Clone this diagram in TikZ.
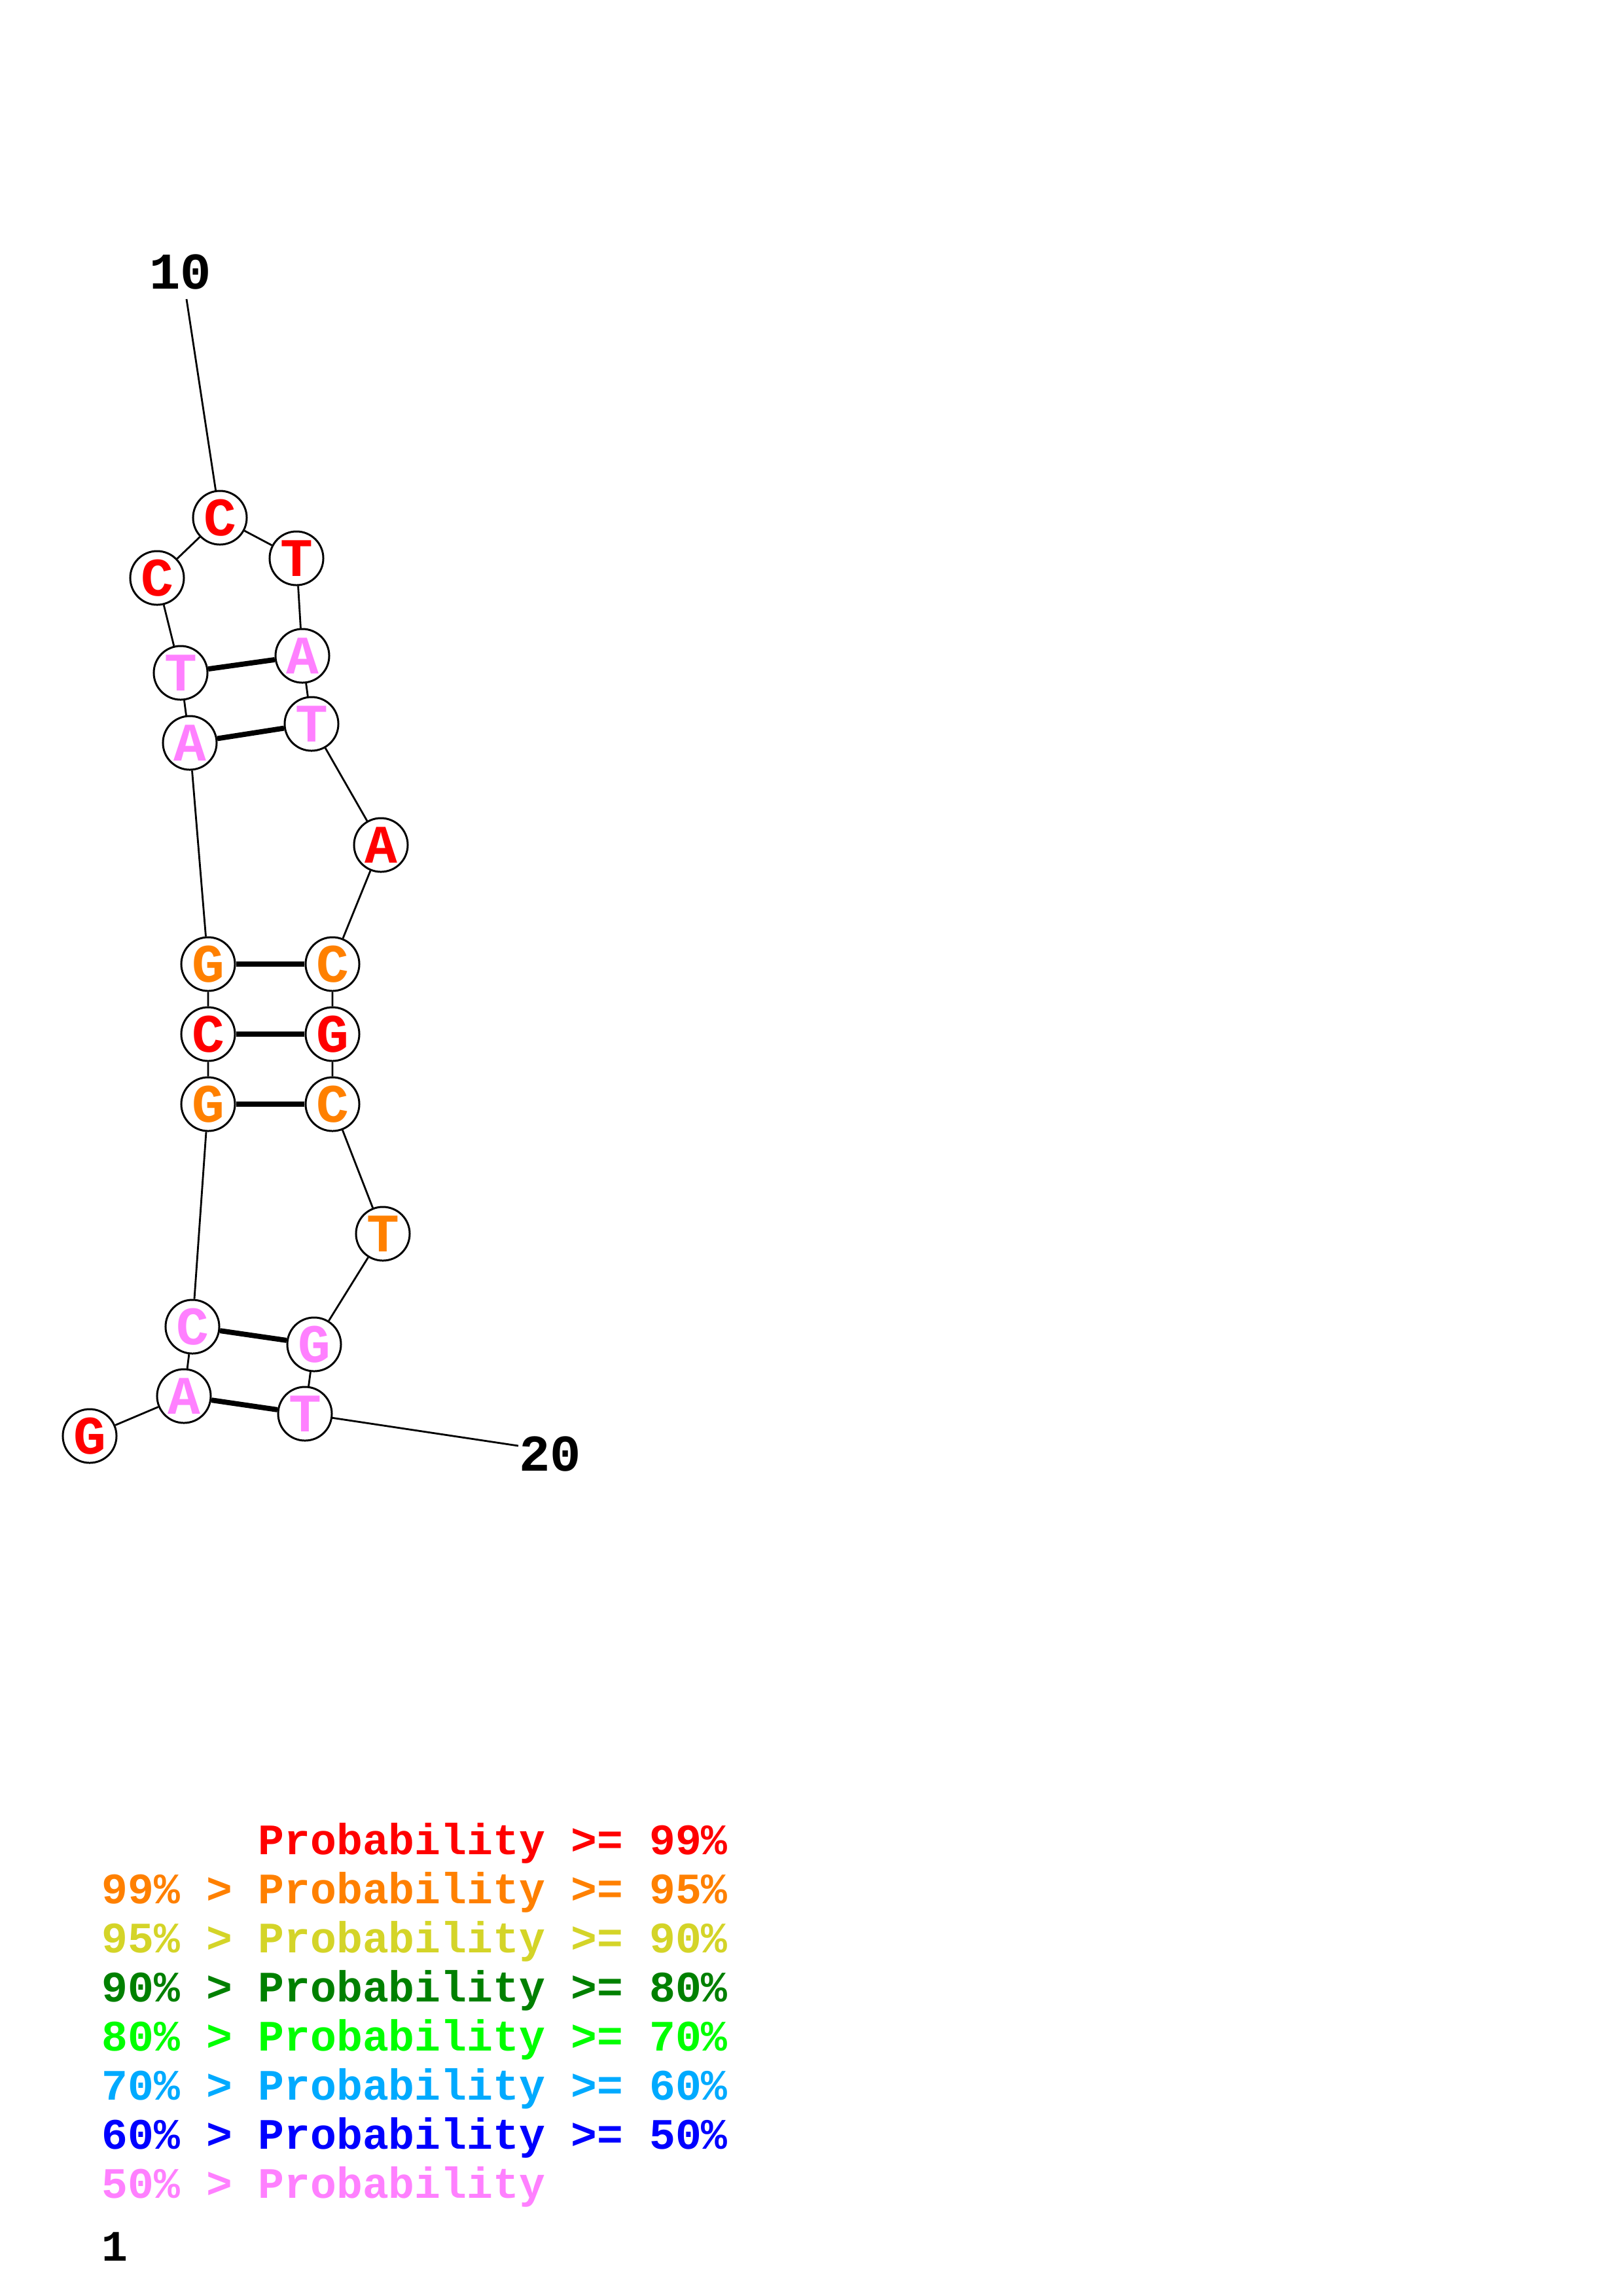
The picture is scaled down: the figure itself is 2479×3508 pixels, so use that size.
\documentclass[tikz,border=0pt]{standalone}
\usepackage{fontspec}
\setmonofont{Liberation Mono}
\usepackage{tikz}
\usetikzlibrary{calc}

\definecolor{pA}{RGB}{255,0,0}
\definecolor{pB}{RGB}{255,128,0}
\definecolor{pC}{RGB}{212,212,40}
\definecolor{pD}{RGB}{0,128,0}
\definecolor{pE}{RGB}{0,255,0}
\definecolor{pF}{RGB}{0,170,255}
\definecolor{pG}{RGB}{0,0,255}
\definecolor{pH}{RGB}{255,128,255}

\begin{document}
\begin{tikzpicture}[x=0.084711mm,y=-0.084711mm,
  nuc/.style={draw, circle, fill=white, line width=0.72pt, minimum size=6.95mm, inner sep=0pt, font=\fontsize{20}{20}\selectfont\ttfamily\bfseries},
  chain/.style={line width=0.68pt},
  pair/.style={line width=1.9pt},
  num/.style={inner sep=0pt, font=\fontsize{19}{19}\selectfont\ttfamily\bfseries},
  legend/.style={anchor=base west, inner sep=0pt, font=\fontsize{16}{18}\selectfont\ttfamily\bfseries}
  ]
  \useasboundingbox (0,0) rectangle (2479,3508);

  % bases
  \node[nuc,text=pA] (n1)  at (137,2194) {G};
  \node[nuc,text=pH] (n2)  at (281,2133) {A};
  \node[nuc,text=pH] (n3)  at (294,2027) {C};
  \node[nuc,text=pB] (n4)  at (318,1687) {G};
  \node[nuc,text=pA] (n5)  at (318,1580) {C};
  \node[nuc,text=pB] (n6)  at (318,1473) {G};
  \node[nuc,text=pH] (n7)  at (290,1135) {A};
  \node[nuc,text=pH] (n8)  at (276,1028) {T};
  \node[nuc,text=pA] (n9)  at (240,883)  {C};
  \node[nuc,text=pA] (n10) at (336,791)  {C};
  \node[nuc,text=pA] (n11) at (453,853)  {T};
  \node[nuc,text=pH] (n12) at (462,1002) {A};
  \node[nuc,text=pH] (n13) at (476,1106) {T};
  \node[nuc,text=pA] (n14) at (582,1291) {A};
  \node[nuc,text=pB] (n15) at (508,1473) {C};
  \node[nuc,text=pA] (n16) at (508,1580) {G};
  \node[nuc,text=pB] (n17) at (508,1687) {C};
  \node[nuc,text=pB] (n18) at (585,1885) {T};
  \node[nuc,text=pH] (n19) at (480,2054) {G};
  \node[nuc,text=pH] (n20) at (466,2160) {T};

  % numbering
  \node[num] (l10) at (276,416) {10};
  \coordinate (e10) at (285,457);
  \node[num] (l20) at (841,2221) {20};
  \coordinate (e20) at (792,2209);

  % backbone
  \draw[chain] (n1) -- (n2) -- (n3) -- (n4) -- (n5) -- (n6) -- (n7) -- (n8) -- (n9) -- (n10)
    -- (n11) -- (n12) -- (n13) -- (n14) -- (n15) -- (n16) -- (n17) -- (n18) -- (n19) -- (n20);
  \draw[chain] (n10) -- (e10);
  \draw[chain] (n20) -- (e20);

  % pairs
  \draw[pair] (n2) -- (n20);
  \draw[pair] (n3) -- (n19);
  \draw[pair] (n4) -- (n17);
  \draw[pair] (n5) -- (n16);
  \draw[pair] (n6) -- (n15);
  \draw[pair] (n7) -- (n13);
  \draw[pair] (n8) -- (n12);

  % legend
  \node[legend,text=pA] (k1) at (155,2833) {\phantom{99\% > }Probability >= 99\%};
  \node[legend,text=pB] (k2) at (155,2908) {99\% > Probability >= 95\%};
  \node[legend,text=pC] (k3) at (155,2983) {95\% > Probability >= 90\%};
  \node[legend,text=pD] (k4) at (155,3058) {90\% > Probability >= 80\%};
  \node[legend,text=pE] (k5) at (155,3133) {80\% > Probability >= 70\%};
  \node[legend,text=pF] (k6) at (155,3208) {70\% > Probability >= 60\%};
  \node[legend,text=pG] (k7) at (155,3283) {60\% > Probability >= 50\%};
  \node[legend,text=pH] (k8) at (155,3358) {50\% > Probability};
  \node[legend] (one) at (155,3454) {1};

\end{tikzpicture}
\end{document}
